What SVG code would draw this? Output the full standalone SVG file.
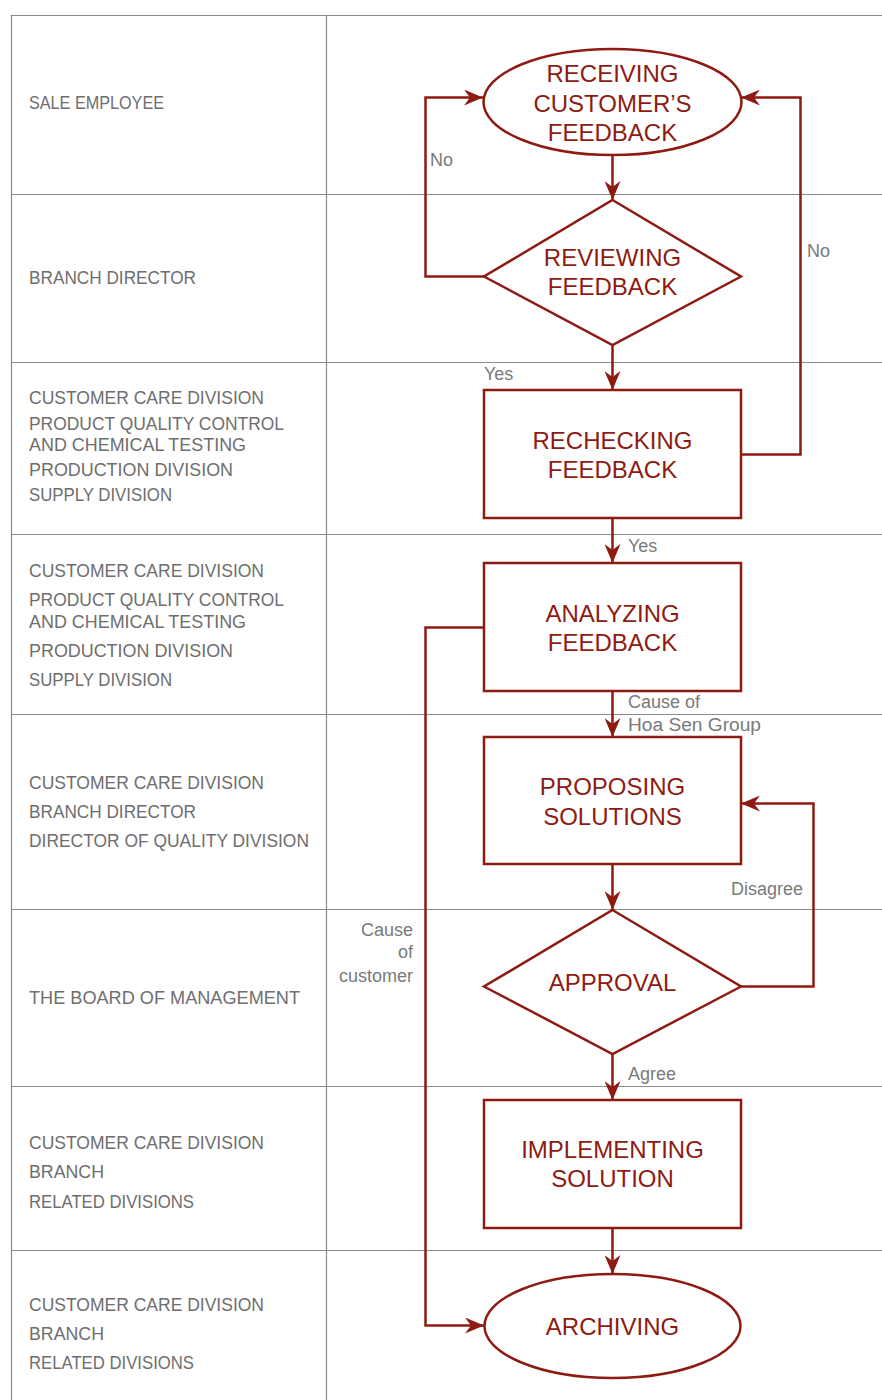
<svg xmlns="http://www.w3.org/2000/svg" width="882" height="1400" viewBox="0 0 882 1400">
<style>
.grid{stroke:#8a8a8a;stroke-width:1.2;fill:none}
.lane{font-family:"Liberation Sans",Arial,sans-serif;font-size:18px;fill:#6e6e6e}
.shape{fill:#fff;stroke:#8d1b11;stroke-width:2.5}
.nt{font-family:"Liberation Sans",Arial,sans-serif;font-size:24px;fill:#8d1b11;text-anchor:middle}
.edge{fill:none;stroke:#8d1b11;stroke-width:2.5}
.el{font-family:"Liberation Sans",Arial,sans-serif;font-size:18px;fill:#7a7a7a}
</style>
<defs>
<marker id="ah" markerUnits="userSpaceOnUse" markerWidth="20" markerHeight="16" refX="19" refY="8" orient="auto">
<path d="M0,0 L19,8 L0,16 L6,8 z" fill="#8d1b11"/>
</marker>
</defs>
<rect width="882" height="1400" fill="#fff"/>
<g id="grid">
<path class="grid" d="M882,15.5 H11.5 V1400 M326.5,15.5 V1400 M11.5,194.5 H882 M11.5,362.5 H882 M11.5,534.5 H882 M11.5,714.5 H882 M11.5,909.5 H882 M11.5,1086.5 H882 M11.5,1250.5 H882"/>
</g>
<g id="lanes">
<text class="lane" x="29" y="109" textLength="135" lengthAdjust="spacingAndGlyphs">SALE EMPLOYEE</text>
<text class="lane" x="29" y="284" textLength="167" lengthAdjust="spacingAndGlyphs">BRANCH DIRECTOR</text>
<text class="lane" x="29" y="404" textLength="235" lengthAdjust="spacingAndGlyphs">CUSTOMER CARE DIVISION</text>
<text class="lane" x="29" y="430" textLength="255" lengthAdjust="spacingAndGlyphs">PRODUCT QUALITY CONTROL</text>
<text class="lane" x="29" y="451" textLength="217" lengthAdjust="spacingAndGlyphs">AND CHEMICAL TESTING</text>
<text class="lane" x="29" y="476" textLength="204" lengthAdjust="spacingAndGlyphs">PRODUCTION DIVISION</text>
<text class="lane" x="29" y="501" textLength="143" lengthAdjust="spacingAndGlyphs">SUPPLY DIVISION</text>
<text class="lane" x="29" y="577" textLength="235" lengthAdjust="spacingAndGlyphs">CUSTOMER CARE DIVISION</text>
<text class="lane" x="29" y="606" textLength="255" lengthAdjust="spacingAndGlyphs">PRODUCT QUALITY CONTROL</text>
<text class="lane" x="29" y="628" textLength="217" lengthAdjust="spacingAndGlyphs">AND CHEMICAL TESTING</text>
<text class="lane" x="29" y="657" textLength="204" lengthAdjust="spacingAndGlyphs">PRODUCTION DIVISION</text>
<text class="lane" x="29" y="686" textLength="143" lengthAdjust="spacingAndGlyphs">SUPPLY DIVISION</text>
<text class="lane" x="29" y="789" textLength="235" lengthAdjust="spacingAndGlyphs">CUSTOMER CARE DIVISION</text>
<text class="lane" x="29" y="818" textLength="167" lengthAdjust="spacingAndGlyphs">BRANCH DIRECTOR</text>
<text class="lane" x="29" y="847" textLength="280" lengthAdjust="spacingAndGlyphs">DIRECTOR OF QUALITY DIVISION</text>
<text class="lane" x="29" y="1004" textLength="271" lengthAdjust="spacingAndGlyphs">THE BOARD OF MANAGEMENT</text>
<text class="lane" x="29" y="1149" textLength="235" lengthAdjust="spacingAndGlyphs">CUSTOMER CARE DIVISION</text>
<text class="lane" x="29" y="1178" textLength="75" lengthAdjust="spacingAndGlyphs">BRANCH</text>
<text class="lane" x="29" y="1208" textLength="165" lengthAdjust="spacingAndGlyphs">RELATED DIVISIONS</text>
<text class="lane" x="29" y="1311" textLength="235" lengthAdjust="spacingAndGlyphs">CUSTOMER CARE DIVISION</text>
<text class="lane" x="29" y="1340" textLength="75" lengthAdjust="spacingAndGlyphs">BRANCH</text>
<text class="lane" x="29" y="1369" textLength="165" lengthAdjust="spacingAndGlyphs">RELATED DIVISIONS</text>
</g>
<g id="connectors">
<path class="edge" d="M612.5,155 V200" marker-end="url(#ah)"/>
<path class="edge" d="M484,276.5 H425.5 V97.5 H483" marker-end="url(#ah)"/>
<path class="edge" d="M741,454.5 H800.5 V97.5 H741" marker-end="url(#ah)"/>
<path class="edge" d="M612.5,345 V390" marker-end="url(#ah)"/>
<path class="edge" d="M612.5,518 V563" marker-end="url(#ah)"/>
<path class="edge" d="M612.5,691 V737" marker-end="url(#ah)"/>
<path class="edge" d="M484,627.5 H425.5 V1325.5 H484" marker-end="url(#ah)"/>
<path class="edge" d="M612.5,864 V910" marker-end="url(#ah)"/>
<path class="edge" d="M741,986.5 H813.5 V803.5 H741" marker-end="url(#ah)"/>
<path class="edge" d="M612.5,1054 V1100" marker-end="url(#ah)"/>
<path class="edge" d="M612.5,1228 V1274" marker-end="url(#ah)"/>
<text class="el" x="430" y="166">No</text>
<text class="el" x="807" y="257">No</text>
<text class="el" x="484" y="380">Yes</text>
<text class="el" x="628" y="552">Yes</text>
<text class="el" x="628" y="708">Cause of</text>
<text class="el" x="628" y="731" textLength="133" lengthAdjust="spacingAndGlyphs">Hoa Sen Group</text>
<text class="el" x="803" y="895" text-anchor="end">Disagree</text>
<text class="el" x="413" y="936" text-anchor="end">Cause</text>
<text class="el" x="413" y="958" text-anchor="end">of</text>
<text class="el" x="413" y="982" text-anchor="end">customer</text>
<text class="el" x="628" y="1080">Agree</text>
</g>
<g id="receiving">
<ellipse class="shape" cx="612.5" cy="102" rx="129" ry="53"/>
<text class="nt" x="612.5" y="82">RECEIVING</text>
<text class="nt" x="612.5" y="112">CUSTOMER’S</text>
<text class="nt" x="612.5" y="141">FEEDBACK</text>
</g>
<g id="reviewing">
<polygon class="shape" points="612.5,200 741,276.5 612.5,345 484,276.5"/>
<text class="nt" x="612.5" y="266">REVIEWING</text>
<text class="nt" x="612.5" y="295">FEEDBACK</text>
</g>
<g id="rechecking">
<rect class="shape" x="484" y="390" width="257" height="128"/>
<text class="nt" x="612.5" y="449">RECHECKING</text>
<text class="nt" x="612.5" y="478">FEEDBACK</text>
</g>
<g id="analyzing">
<rect class="shape" x="484" y="563" width="257" height="128"/>
<text class="nt" x="612.5" y="622">ANALYZING</text>
<text class="nt" x="612.5" y="651">FEEDBACK</text>
</g>
<g id="proposing">
<rect class="shape" x="484" y="737" width="257" height="127"/>
<text class="nt" x="612.5" y="795">PROPOSING</text>
<text class="nt" x="612.5" y="825">SOLUTIONS</text>
</g>
<g id="approval">
<polygon class="shape" points="612.5,910 741,986.5 612.5,1054 484,986.5"/>
<text class="nt" x="612.5" y="991">APPROVAL</text>
</g>
<g id="implementing">
<rect class="shape" x="484" y="1100" width="257" height="128"/>
<text class="nt" x="612.5" y="1158">IMPLEMENTING</text>
<text class="nt" x="612.5" y="1187">SOLUTION</text>
</g>
<g id="archiving">
<ellipse class="shape" cx="612.5" cy="1326" rx="128" ry="52"/>
<text class="nt" x="612.5" y="1335">ARCHIVING</text>
</g>
</svg>
